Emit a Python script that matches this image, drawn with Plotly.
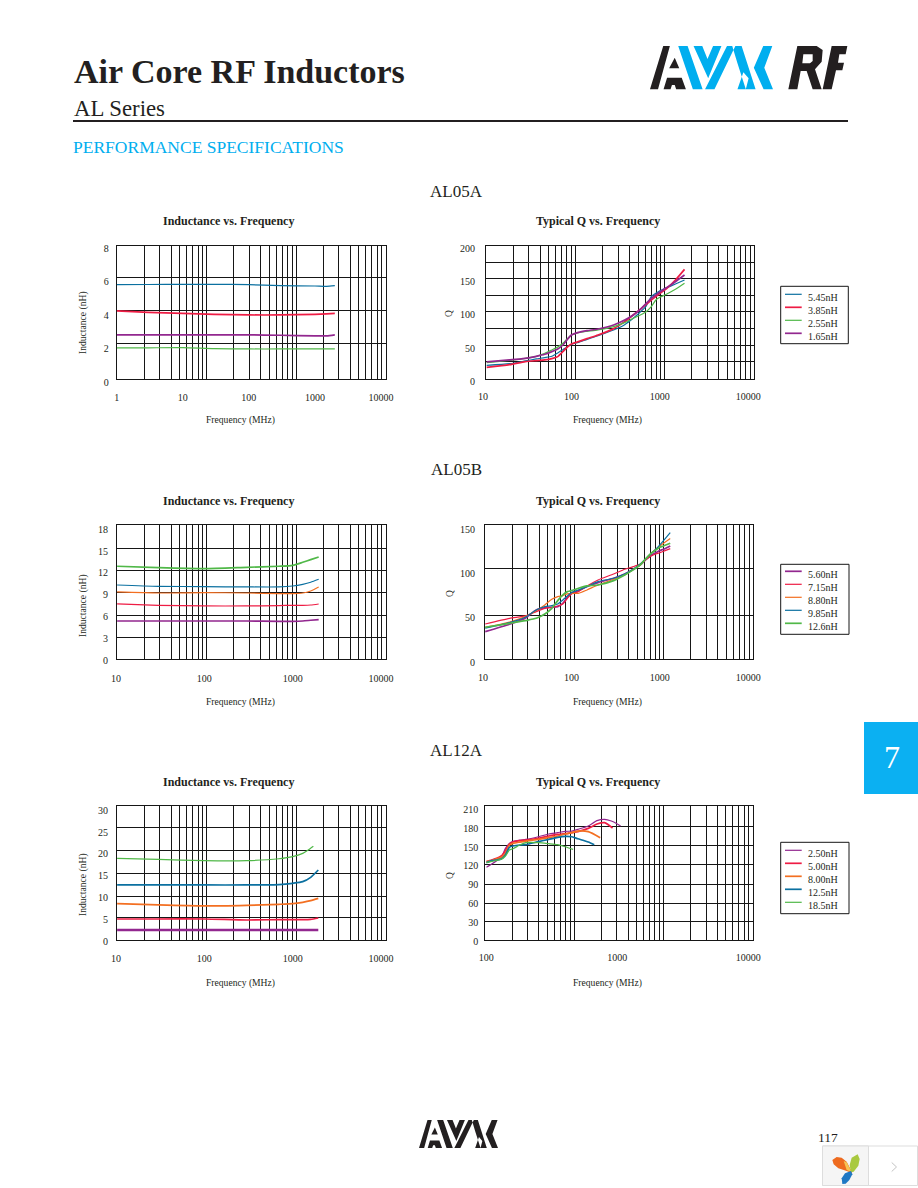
import math
import plotly.graph_objects as go

W, H = 918, 1188
SERIF = "Liberation Serif"
INK = "#231f20"
CYAN = "#00aeef"
BLUE, RED, GREEN, PURPLE, ORANGE = "#0b70a0", "#ee1c44", "#50b848", "#92278f", "#f36f21"

# ---- AL05A inductance
A_L_FREQ = [1, 3, 10, 30, 100, 300, 1000, 1500, 2000]
A_L_545 = [5.83, 5.84, 5.85, 5.85, 5.83, 5.77, 5.75, 5.73, 5.77]
A_L_385 = [4.26, 4.18, 4.12, 4.06, 4.02, 4.02, 4.06, 4.09, 4.12]
A_L_255 = [2.05, 2.06, 2.07, 2.01, 1.99, 1.99, 1.99, 1.99, 1.99]
A_L_165 = [2.83, 2.83, 2.83, 2.83, 2.83, 2.81, 2.77, 2.77, 2.83]
# ---- AL05A Q
A_Q_FREQ = [11, 20, 30, 40, 50, 60, 70, 80, 90, 100, 120, 150, 200, 300, 400, 500, 600, 700, 800, 900, 1000, 1200, 1500, 1900]
A_Q_545 = [24.0, 26.5, 30.6, 33.6, 35.6, 37.6, 42.6, 47.6, 51.6, 55.6, 58.6, 63.1, 68.6, 77.1, 85.1, 94.7, 104.2, 113.2, 127.3, 132.3, 136.3, 140.8, 146.3, 152.3]
A_Q_385 = [21.0, 25.0, 29.6, 31.1, 32.1, 34.1, 37.1, 44.6, 51.6, 56.1, 59.6, 64.1, 69.6, 79.2, 89.7, 99.7, 108.2, 115.7, 122.2, 127.3, 132.3, 139.8, 152.3, 168.3]
A_Q_255 = [28.1, 31.6, 34.6, 37.6, 42.1, 47.1, 51.6, 57.1, 64.1, 69.6, 73.1, 75.1, 77.2, 82.2, 88.2, 94.7, 99.7, 104.7, 112.2, 122.2, 126.3, 131.3, 138.3, 147.3]
A_Q_165 = [29.1, 32.1, 34.6, 37.6, 40.6, 44.6, 48.6, 54.6, 63.1, 69.6, 73.6, 76.2, 78.7, 84.7, 92.2, 99.7, 108.2, 117.2, 124.7, 129.8, 134.3, 141.3, 149.8, 159.8]
# ---- AL05B inductance
B_L_FREQ = [10.3, 30, 100, 300, 700, 1000, 1300, 1600, 1970]
B_L_560 = [5.4, 5.4, 5.4, 5.4, 5.36, 5.36, 5.4, 5.5, 5.59]
B_L_715 = [7.74, 7.56, 7.47, 7.47, 7.51, 7.56, 7.56, 7.6, 7.74]
B_L_880 = [9.39, 9.25, 9.3, 9.25, 9.16, 9.16, 9.25, 9.53, 10.08]
B_L_985 = [10.35, 10.17, 10.12, 10.08, 10.08, 10.21, 10.44, 10.72, 11.13]
B_L_126 = [12.92, 12.73, 12.6, 12.78, 12.92, 13.05, 13.47, 13.83, 14.2]
# ---- AL05B Q
B_Q_FREQ = [10.6, 20, 30, 40, 50, 60, 70, 80, 90, 100, 120, 150, 200, 300, 400, 500, 600, 700, 800, 900, 1000, 1100, 1310]
B_Q_560 = [34.6, 42.9, 49.6, 59.0, 61.3, 62.0, 62.8, 66.6, 73.3, 77.8, 80.8, 85.4, 89.9, 94.8, 99.6, 104.9, 109.8, 116.2, 121.1, 123.7, 126.0, 127.5, 131.2]
B_Q_715 = [43.2, 49.6, 52.3, 57.2, 60.9, 62.0, 63.5, 65.8, 72.2, 77.1, 79.7, 86.1, 92.9, 99.6, 104.9, 107.9, 110.9, 116.2, 119.9, 122.2, 123.7, 125.2, 128.2]
B_Q_880 = [39.5, 45.5, 51.5, 58.3, 64.7, 71.1, 74.1, 75.2, 77.1, 77.8, 77.8, 81.6, 87.2, 93.6, 98.5, 104.9, 109.8, 117.3, 123.0, 127.5, 131.2, 134.2, 139.5]
B_Q_985 = [38.4, 44.7, 50.8, 59.0, 62.8, 63.9, 65.8, 70.3, 74.8, 78.6, 81.6, 85.4, 91.0, 94.8, 99.6, 104.9, 110.9, 117.3, 123.0, 127.5, 132.4, 137.2, 146.3]
B_Q_126 = [39.5, 44.0, 47.0, 49.6, 54.5, 60.9, 69.6, 76.0, 79.7, 80.8, 83.5, 86.1, 87.2, 92.1, 98.5, 104.2, 109.8, 117.3, 123.0, 126.7, 129.7, 131.2, 134.2]
# ---- AL12A inductance
C_L_FREQ = [10.3, 30, 100, 300, 700, 1000, 1300, 1600, 1950]
C_L_250 = [2.59, 2.59, 2.59, 2.59, 2.59, 2.59, 2.59, 2.59, 2.59]
C_L_500 = [5.11, 5.11, 5.11, 4.88, 4.96, 4.96, 4.96, 5.04, 5.34]
C_L_800 = [8.62, 8.32, 8.09, 8.24, 8.47, 8.62, 8.93, 9.31, 9.84]
C_L_125 = [12.9, 12.9, 12.9, 12.9, 12.97, 13.28, 13.66, 14.65, 16.33]
C_L_185_FREQ = [10.3, 30, 100, 300, 700, 1000, 1300, 1500, 1715]
C_L_185 = [19.0, 18.77, 18.46, 18.46, 18.9, 19.38, 20.14, 20.9, 21.75]
# ---- AL12A Q
C_Q_250_FREQ = [100, 110, 120, 130, 140, 150, 160, 180, 200, 250, 300, 350, 400, 450, 500, 600, 700, 800, 900, 1000, 1060]
C_Q_250 = [117.7, 123.0, 128.3, 133.6, 147.9, 155.8, 159, 161.1, 162.2, 166.4, 170.7, 172.8, 174.9, 175.4, 178.1, 183.4, 191.9, 194, 191.3, 186.6, 183.4]
C_Q_500_FREQ = [100, 110, 120, 130, 140, 150, 160, 180, 200, 250, 300, 350, 400, 450, 500, 600, 700, 800, 920]
C_Q_500 = [126.7, 129.3, 132, 135.7, 144.2, 154.8, 157.9, 160.1, 161.1, 163.8, 167.5, 170.1, 171.2, 172.8, 174.4, 179.7, 186.6, 188.7, 180.2]
C_Q_800_FREQ = [100, 110, 120, 130, 140, 150, 160, 180, 200, 250, 300, 350, 400, 450, 500, 600, 740]
C_Q_800 = [126.7, 128.3, 131.4, 133.6, 139.9, 153.2, 155.8, 157.9, 159.5, 162.2, 164.8, 167.5, 170.7, 172.8, 175.4, 174.4, 164.8]
C_Q_125_FREQ = [100, 110, 120, 130, 140, 150, 160, 180, 200, 250, 300, 350, 400, 450, 500, 600, 667]
C_Q_125 = [125.1, 128.3, 129.3, 130.9, 137.3, 149.5, 151.6, 153.2, 153.7, 158.5, 162.2, 165.4, 167, 166.4, 163.2, 157.9, 153.7]
C_Q_185_FREQ = [100, 110, 120, 130, 140, 150, 160, 180, 200, 250, 300, 350, 400, 460]
C_Q_185 = [125.1, 127.2, 128.8, 130.4, 135.7, 145.2, 147.3, 153.2, 156.9, 156.9, 155.3, 153.7, 150.5, 146.3]

# ---- tick labels
TICKS_1_10000 = [1, 10, 100, 1000, 10000]
TICKS_10_10000 = [10, 100, 1000, 10000]
TICKS_100_10000 = [100, 1000, 10000]
GRID_X = [m * 10 ** k for k in range(3) for m in range(1, 10)] + [1000]

THIN, THICK = 1.2, 1.7

PANELS = [
    dict(frame=(117.3, 245.7, 385.7, 379.3), axes=(116.7, 248.3, 381, 382.3), xticks=TICKS_1_10000, stand=8,
         yticks=[0, 2, 4, 6, 8], ygrid=[0, 2.15, 4.13, 6.1, 8], ymax=8, title="Inductance vs. Frequency",
         ytitle="Inductance (nH)", tc=228.5, ty=221, xt=240, xty=420, yt=83, yty=323,
         series=[("5.45nH", A_L_FREQ, A_L_545, BLUE, THIN), ("3.85nH", A_L_FREQ, A_L_385, RED, THICK),
                 ("2.55nH", A_L_FREQ, A_L_255, GREEN, THIN), ("1.65nH", A_L_FREQ, A_L_165, PURPLE, THICK)]),
    dict(frame=(486.3, 245.7, 754.3, 379.3), axes=(483, 248.3, 748.3, 381.3), xticks=TICKS_10_10000, stand=8,
         yticks=[0, 50, 100, 150, 200], ygrid=[0, 26.9, 50.9, 76.3, 101.7, 125.7, 151.1, 175.1, 200], ymax=200,
         title="Typical Q vs. Frequency", ytitle="Q", tc=597.5, ty=221, xt=607.5, xty=420, yt=449, yty=314,
         legend=(286.3, 343.7, 780.7, 848.3, [297.3, 310.3, 323.3, 336.3]),
         series=[("5.45nH", A_Q_FREQ, A_Q_545, BLUE, THIN), ("3.85nH", A_Q_FREQ, A_Q_385, RED, THICK),
                 ("2.55nH", A_Q_FREQ, A_Q_255, GREEN, THIN), ("1.65nH", A_Q_FREQ, A_Q_165, PURPLE, THICK)]),
    dict(frame=(117.3, 525.3, 385.7, 659.3), axes=(116, 529.3, 381, 660.3), xticks=TICKS_10_10000, stand=11,
         yticks=[0, 3, 6, 9, 12, 15, 18], ygrid=[0, 2.96, 5.91, 9.0, 11.96, 14.9, 18], ymax=18, title="Inductance vs. Frequency",
         ytitle="Inductance (nH)", tc=228.5, ty=501, xt=240, xty=702, yt=83, yty=606,
         series=[("5.60nH", B_L_FREQ, B_L_560, PURPLE, THICK), ("7.15nH", B_L_FREQ, B_L_715, RED, THIN),
                 ("8.80nH", B_L_FREQ, B_L_880, ORANGE, THIN), ("9.85nH", B_L_FREQ, B_L_985, BLUE, THIN),
                 ("12.6nH", B_L_FREQ, B_L_126, GREEN, THICK)]),
    dict(frame=(485.3, 525.3, 753.3, 659.3), axes=(483, 529.3, 748.3, 662.3), xticks=TICKS_10_10000, stand=8,
         yticks=[0, 50, 100, 150], ygrid=[0, 49.3, 101.9, 150], ymax=150, title="Typical Q vs. Frequency",
         ytitle="Q", tc=597.5, ty=501, xt=607.5, xty=702, yt=449, yty=594,
         legend=(564.3, 634.3, 780.7, 849, [574.3, 587.3, 600.3, 613.3, 626.3]),
         series=[("5.60nH", B_Q_FREQ, B_Q_560, PURPLE, THICK), ("7.15nH", B_Q_FREQ, B_Q_715, RED, THIN),
                 ("8.80nH", B_Q_FREQ, B_Q_880, ORANGE, THIN), ("9.85nH", B_Q_FREQ, B_Q_985, BLUE, THIN),
                 ("12.6nH", B_Q_FREQ, B_Q_126, GREEN, THICK)]),
    dict(frame=(117.3, 806.3, 385.7, 940.3), axes=(116, 810.3, 381, 941.3), xticks=TICKS_10_10000, stand=10,
         yticks=[0, 5, 10, 15, 20, 25, 30], ygrid=[0, 5.15, 9.85, 15, 20.15, 25.3, 30], ymax=30, title="Inductance vs. Frequency",
         ytitle="Inductance (nH)", tc=228.5, ty=782, xt=240, xty=983, yt=83, yty=885,
         series=[("2.50nH", C_L_FREQ, C_L_250, PURPLE, 2.4), ("5.00nH", C_L_FREQ, C_L_500, RED, THICK),
                 ("8.00nH", C_L_FREQ, C_L_800, ORANGE, THICK), ("12.5nH", C_L_FREQ, C_L_125, BLUE, THICK),
                 ("18.5nH", C_L_185_FREQ, C_L_185, GREEN, THIN)]),
    dict(frame=(485.3, 806.3, 752.7, 940.3), axes=(486.3, 809.3, 748.3, 941.3), xticks=TICKS_100_10000, stand=9,
         yticks=[0, 30, 60, 90, 120, 150, 180, 210], ygrid=[0, 29.8, 58, 87.8, 119.1, 148.9, 178.7, 210], ymax=210,
         title="Typical Q vs. Frequency", ytitle="Q", tc=597.5, ty=782, xt=607.5, xty=983, yt=449, yty=876,
         legend=(842.3, 913.7, 780.7, 849, [853.3, 866.3, 879.3, 892.3, 905.3]),
         series=[("2.50nH", C_Q_250_FREQ, C_Q_250, PURPLE, THIN), ("5.00nH", C_Q_500_FREQ, C_Q_500, RED, THICK),
                 ("8.00nH", C_Q_800_FREQ, C_Q_800, ORANGE, THICK), ("12.5nH", C_Q_125_FREQ, C_Q_125, BLUE, THICK),
                 ("18.5nH", C_Q_185_FREQ, C_Q_185, GREEN, THIN)]),
]

def px(x): return x / W
def py(y): return 1 - y / H

def text(x, y, s, size, color=INK, anchor="center", angle=0, bold=False):
    return dict(xref="paper", yref="paper", x=px(x), y=py(y), text=f"<b>{s}</b>" if bold else s, showarrow=False,
                xanchor=anchor, yanchor="middle", textangle=angle,
                font=dict(family=SERIF, size=size, color=color))

def poly(points, color, ox, oy, sx, sy):
    d = ""
    for sub in points:
        d += "M " + " L ".join(f"{px(ox + p[0] * sx):.5f},{py(oy + p[1] * sy):.5f}" for p in sub) + " Z "
    return dict(type="path", xref="paper", yref="paper", path=d, fillcolor=color, layer="above", line=dict(width=0))

fig = go.Figure()
layout = {}
annotations = []
shapes = []
n = len(PANELS)
for i, p in enumerate(PANELS):
    g, d = i + 1, i + 1 + n
    gs = "" if g == 1 else str(g)
    l, t, r, b = p["frame"]
    layout[f"xaxis{gs}"] = dict(type="log", range=[0, 3], domain=[px(l), px(r)], anchor=f"y{gs}", tickmode="array",
                                tickvals=GRID_X, showticklabels=False, ticks="", showgrid=True, gridcolor="#161616",
                                gridwidth=1, showline=True, linecolor="#161616", linewidth=1, mirror=True, zeroline=False)
    layout[f"yaxis{gs}"] = dict(range=[0, p["ymax"]], domain=[py(b), py(t)], anchor=f"x{gs}", tickmode="array",
                                tickvals=p["ygrid"], showticklabels=False, ticks="", showgrid=True, gridcolor="#161616",
                                gridwidth=1, showline=True, linecolor="#161616", linewidth=1, mirror=True, zeroline=False)
    # grid subplot is activated by an empty trace; it carries no visible mark
    fig.add_trace(go.Scatter(x=[None], y=[None], mode="lines", xaxis=f"x{gs}", yaxis=f"y{gs}", showlegend=False,
                             hoverinfo="skip"))
    al, at, ar, ab = p["axes"]
    xt = p["xticks"]
    layout[f"xaxis{d}"] = dict(type="log", range=[math.log10(xt[0]), math.log10(xt[-1])], domain=[px(al), px(ar)],
                               anchor=f"y{d}", tickmode="array", tickvals=xt, ticktext=[str(v) for v in xt], ticks="",
                               showgrid=False, zeroline=False, showline=False, ticklabelstandoff=p["stand"],
                               tickfont=dict(family=SERIF, size=10, color=INK))
    layout[f"yaxis{d}"] = dict(range=[0, p["ymax"]], domain=[py(ab), py(at)], anchor=f"x{d}", tickmode="array",
                               tickvals=p["yticks"], ticks="", showgrid=False, zeroline=False, showline=False,
                               ticklabelstandoff=7, tickfont=dict(family=SERIF, size=10, color=INK))
    for name, f, v, c, w in p["series"]:
        fig.add_trace(go.Scatter(x=f, y=v, name=name, mode="lines",
                                 line=dict(color=c, width=w, shape="spline", smoothing=0.6),
                                 xaxis=f"x{d}", yaxis=f"y{d}", showlegend=False))
    annotations.append(text(p["tc"], p["ty"], p["title"], 12, bold=True))
    annotations.append(text(p["xt"], p["xty"], "Frequency (MHz)", 9.6))
    annotations.append(text(p["yt"], p["yty"], p["ytitle"], 9.6, angle=-90))
    if p.get("legend"):
        top, bot, left, right, rows = p["legend"]
        shapes.append(dict(type="rect", xref="paper", yref="paper", x0=px(left), x1=px(right), y0=py(bot), y1=py(top),
                           fillcolor="white", line=dict(color="#161616", width=1), layer="above"))
        for (name, f, v, c, w), ry in zip(p["series"], rows):
            shapes.append(dict(type="line", xref="paper", yref="paper", x0=px(785), x1=px(801.7), y0=py(ry - 3),
                               y1=py(ry - 3), line=dict(color=c, width=w), layer="above"))
            annotations.append(text(805.5, ry, name, 10, anchor="left"))

annotations += [
    text(72, 71, "Air Core RF Inductors", 34, anchor="left", bold=True),
    text(72, 109, "AL Series", 22.8, anchor="left"),
    text(71, 147, "PERFORMANCE SPECIFICATIONS", 17.5, color=CYAN, anchor="left"),
    text(456, 191, "AL05A", 17),
    text(456, 470, "AL05B", 17),
    text(456, 750, "AL12A", 17),
    text(892, 757, "7", 32, color="white"),
    text(828, 1137, "117", 13.5),
]

# header rule, section tab and page widget
shapes.append(dict(type="line", xref="paper", yref="paper", x0=px(73), x1=px(848), y0=py(121), y1=py(121),
                   line=dict(color=INK, width=2)))
shapes.append(dict(type="rect", xref="paper", yref="paper", x0=px(864), x1=px(918), y0=py(722), y1=py(794),
                   fillcolor="#0bb0f2", line=dict(width=0), layer="below"))
shapes.append(dict(type="rect", xref="paper", yref="paper", x0=px(822.5), x1=px(917.5), y0=py(1146), y1=py(1185.5),
                   fillcolor="white", line=dict(color="#dddddd", width=1), layer="below"))
shapes.append(dict(type="rect", xref="paper", yref="paper", x0=px(822.5), x1=px(868.5), y0=py(1146), y1=py(1185.5),
                   fillcolor="#f5f5f5", line=dict(color="#dddddd", width=1), layer="below"))
shapes.append(dict(type="path", xref="paper", yref="paper",
                   path=f"M {px(891.7):.5f},{py(1162.5):.5f} L {px(896.5):.5f},{py(1167):.5f} L {px(891.7):.5f},{py(1171.5):.5f}",
                   line=dict(color="#c4c4c4", width=1)))

# logos
BLACK_AVX = [
    [(85, 33), (104, 33), (70, 163), (47, 163)],
    [(118, 68), (131, 100), (102, 100)],
    [(96, 128), (138, 128), (150, 163), (122, 163), (118, 150), (110, 150), (106, 163), (86, 163)],
]
CYAN_AVX = [
    [(128, 33), (155, 33), (198, 163), (170, 163)],
    [(172, 33), (197, 33), (212, 72), (228, 33), (252, 33), (214, 130)],
    [(268, 33), (292, 33), (232, 163), (205, 163)],
    [(283, 33), (310, 33), (350, 163), (322, 163), (298, 85)],
    [(372, 33), (398, 33), (375, 98), (400, 163), (373, 163), (345, 98)],
    [(298, 163), (322, 163), (330, 130), (315, 112)],
]
R_F = [
    [(472, 33), (530, 33), (548, 45), (545, 80), (525, 103), (545, 163), (518, 163), (500, 108), (482, 108), (472, 163), (445, 163)],
    [(490, 58), (487, 85), (510, 85), (518, 78), (518, 58)],
    [(575, 33), (622, 33), (617, 58), (598, 58), (594, 83), (612, 83), (607, 106), (588, 106), (575, 163), (548, 163)],
]
tx = (773 - 650) / 353
shapes.append(poly(BLACK_AVX, "#231f20", 650 - 47 * tx, 35, tx, 1 / 3))
shapes.append(poly(CYAN_AVX, CYAN, 650 - 47 * tx, 35, tx, 1 / 3))
shapes.append(poly(R_F, "#231f20", 640, 35, 1 / 3, 1 / 3))
bx, by = 79 / 353, 28 / 130
ox, oy = 419 - 47 * bx, 1120 - 33 * by
shapes.append(poly(BLACK_AVX + CYAN_AVX, "#231f20", ox, oy, bx, by))

LEAF_O = [[(52, 75), (65, 66), (80, 68), (95, 80), (108, 105), (112, 115), (95, 108), (70, 100), (56, 88)]]
LEAF_Y = [[(86, 78), (95, 82), (110, 112), (95, 105)]]
LEAF_G = [[(108, 112), (104, 90), (110, 68), (128, 58), (134, 72), (130, 92), (116, 110)]]
LEAF_B = [[(82, 147), (80, 130), (90, 115), (108, 108), (112, 118), (103, 135), (92, 146)]]
shapes.append(poly(LEAF_O, "#ee6b1f", 815, 1135, 1 / 3, 1 / 3))
shapes.append(poly(LEAF_Y, "#f6c453", 815, 1135, 1 / 3, 1 / 3))
shapes.append(poly(LEAF_G, "#a9c93f", 815, 1135, 1 / 3, 1 / 3))
shapes.append(poly(LEAF_B, "#1f78c4", 815, 1135, 1 / 3, 1 / 3))

fig.update_layout(width=W, height=H, margin=dict(l=0, r=0, t=0, b=0, autoexpand=False), paper_bgcolor="white",
                  plot_bgcolor="rgba(0,0,0,0)", annotations=annotations, shapes=shapes, showlegend=False,
                  font=dict(family=SERIF, color=INK), **layout)

fig.write_html("out.html", post_script="document.body.style.margin='0';document.body.style.overflow='hidden';",
               config={"displayModeBar": False})
